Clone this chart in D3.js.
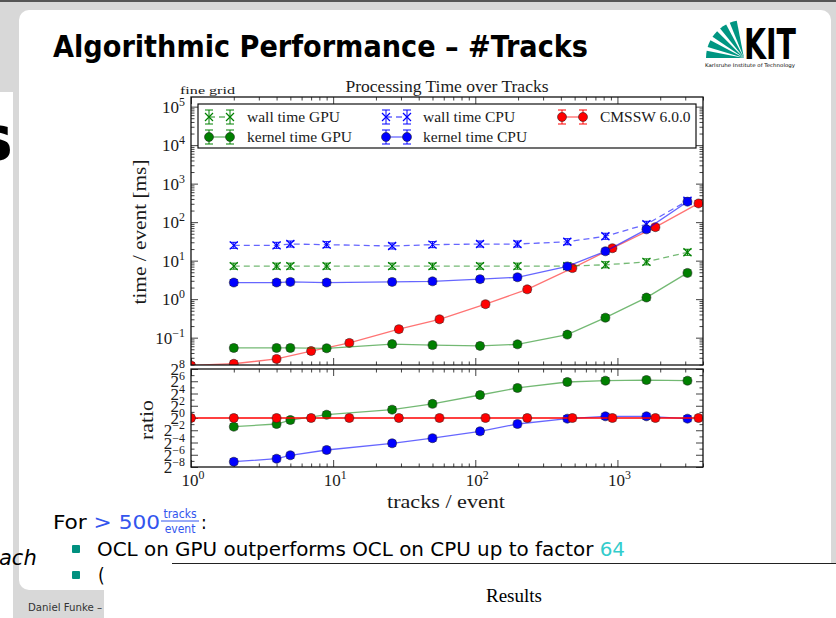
<!DOCTYPE html>
<html>
<head>
<meta charset="utf-8">
<script src="https://cdn.jsdelivr.net/npm/d3@7"></script>
<style>
  body { margin: 0; background: #fff; }
  svg { display: block; }
</style>
</head>
<body>
<svg id="slide"></svg>
<script>
// ---- data ----
const tracksGpuCpu = [2, 4, 5, 9, 26, 50, 108, 198, 444, 823, 1600, 3110];
const wallGpu   = [7.2, 7.2, 7.2, 7.2, 7.2, 7.2, 7.2, 7.2, 7.2, 7.8, 9.3, 16.5];
const kernelGpu = [0.054, 0.054, 0.054, 0.053, 0.068, 0.064, 0.061, 0.067, 0.12, 0.33, 1.1, 4.8];
const wallCpu   = [25, 25, 27, 26, 24, 26, 27, 27, 31, 43, 88, 360];
const kernelCpu = [2.7, 2.7, 2.8, 2.7, 2.8, 2.9, 3.3, 3.7, 7.1, 17.5, 65, 340];

const tracksCmssw = [1, 2, 4, 7, 13, 29, 56, 118, 232, 482, 922, 1850, 3720];
const cmssw       = [0.019, 0.021, 0.028, 0.045, 0.073, 0.166, 0.30, 0.74, 1.8, 6.4, 21, 74, 306];

// ratio panel (CMSSW relative to kernel time)
const ratioGpu   = [0.374, 0.507, 0.795, 1.45, 2.57, 4.96, 13.5, 29.9, 58.9, 68.1, 73.5, 68.1];
const ratioCpu   = [0.0071, 0.0100, 0.0147, 0.0268, 0.0571, 0.1015, 0.222, 0.507, 0.927, 1.21, 1.21, 0.927];
const ratioCmssw = [1, 1, 1, 1, 1, 1, 1, 1, 1, 1, 1, 1, 1];

// tick labels
const xTickExp = [0, 1, 2, 3];
const yTickExp = [-1, 0, 1, 2, 3, 4, 5];
const ratioTickExp = [-8, -6, -4, -2, 0, 2, 4, 6, 8];

// ---- layout ----
const W = 836, H = 618;
const plotL = 191, plotR = 703;
const topT = 97, topB = 365;
const ratT = 369, ratB = 467;

const svg = d3.select("#slide")
    .attr("width", W)
    .attr("height", H);

// ---- slide background / window frame ----
const bg = svg.append("g");
bg.append("rect").attr("x", 0).attr("y", 0).attr("width", W).attr("height", H).attr("fill", "#d8d8d8");
bg.append("rect").attr("x", 0).attr("y", 0).attr("width", W).attr("height", 2).attr("fill", "#555");
bg.append("rect").attr("x", 19).attr("y", 10).attr("width", 812).attr("height", 580)
    .attr("rx", 10).attr("fill", "#fff");

// left overlapping window with cut text
bg.append("rect").attr("x", 0).attr("y", 92).attr("width", 13).attr("height", H - 92).attr("fill", "#fff");
svg.append("clipPath").attr("id", "leftclip")
    .append("rect").attr("x", 0).attr("y", 92).attr("width", 13).attr("height", H - 92);
svg.append("g").attr("clip-path", "url(#leftclip)")
    .append("text").attr("x", -24).attr("y", 160)
    .style("font-family", "'DejaVu Sans', sans-serif")
    .attr("font-size", 62).attr("font-weight", "bold").text("s");
svg.append("text").attr("x", -1).attr("y", 565)
    .style("font-family", "'DejaVu Sans', sans-serif")
    .attr("font-size", 21).attr("font-style", "italic").text("ach");

// footer
bg.append("text").attr("x", 28).attr("y", 611)
    .style("font-family", "'DejaVu Sans Condensed', 'DejaVu Sans', sans-serif")
    .attr("font-size", 11).attr("fill", "#333")
    .attr("textLength", 74).attr("lengthAdjust", "spacingAndGlyphs")
    .text("Daniel Funke –");

// slide title
svg.append("text")
    .attr("x", 53).attr("y", 57)
    .style("font-family", "'DejaVu Sans Condensed', 'DejaVu Sans', sans-serif")
    .attr("font-weight", "bold").attr("font-size", 30)
    .attr("textLength", 535).attr("lengthAdjust", "spacingAndGlyphs")
    .text("Algorithmic Performance – #Tracks");

// KIT logo
const logo = svg.append("g");
const fanArc = d3.arc().innerRadius(0).outerRadius(38);
const fanAngles = [[-90, -79], [-73, -62], [-56, -45], [-39, -28], [-22, -11]];
logo.selectAll("path.fan")
    .data(fanAngles)
    .enter().append("path")
    .attr("class", "fan")
    .attr("transform", "translate(744,58)")
    .attr("fill", "#009682")
    .attr("d", d => fanArc({ startAngle: d[0] * Math.PI / 180, endAngle: d[1] * Math.PI / 180 }));
logo.append("text").attr("x", 744).attr("y", 59)
    .style("font-family", "'DejaVu Sans', sans-serif").attr("font-weight", "bold")
    .attr("font-size", 42).attr("textLength", 52).attr("lengthAdjust", "spacingAndGlyphs").text("KIT");
logo.append("text").attr("x", 705).attr("y", 67)
    .style("font-family", "'DejaVu Sans', sans-serif")
    .attr("font-size", 5).attr("textLength", 90).attr("lengthAdjust", "spacingAndGlyphs")
    .text("Karlsruhe Institute of Technology");

// slide body text
const body = svg.append("g").style("font-family", "'DejaVu Sans Condensed', 'DejaVu Sans', sans-serif");
const forLine = body.append("text").attr("x", 53).attr("y", 529).attr("font-size", 20)
    .attr("textLength", 107).attr("lengthAdjust", "spacingAndGlyphs");
forLine.append("tspan").text("For ");
forLine.append("tspan").attr("fill", "#3355ee").text("> 500");
body.append("text").attr("x", 180).attr("y", 518).attr("font-size", 12).attr("fill", "#3355ee")
    .attr("text-anchor", "middle").text("tracks");
body.append("line").attr("x1", 161).attr("x2", 199).attr("y1", 521).attr("y2", 521)
    .attr("stroke", "#3355ee").attr("stroke-width", 1);
body.append("text").attr("x", 180).attr("y", 533).attr("font-size", 12).attr("fill", "#3355ee")
    .attr("text-anchor", "middle").text("event");
body.append("text").attr("x", 201).attr("y", 529).attr("font-size", 19).text(":");
body.append("rect").attr("x", 72).attr("y", 545).attr("width", 8).attr("height", 8).attr("rx", 1).attr("fill", "#00907f");
body.append("rect").attr("x", 72).attr("y", 571).attr("width", 8).attr("height", 8).attr("rx", 1).attr("fill", "#00907f");
const oclLine = body.append("text").attr("x", 97).attr("y", 556).attr("font-size", 19)
    .attr("textLength", 528).attr("lengthAdjust", "spacingAndGlyphs");
oclLine.append("tspan").text("OCL on GPU outperforms OCL on CPU up to factor ");
oclLine.append("tspan").attr("fill", "#33cccc").text("64");
body.append("text").attr("x", 98).attr("y", 582).attr("font-size", 19).text("(");

// bottom overlapping window
svg.append("rect").attr("x", 104).attr("y", 563).attr("width", W - 104).attr("height", H - 563).attr("fill", "#fff");
svg.append("line").attr("x1", 172).attr("x2", W).attr("y1", 563.5).attr("y2", 563.5)
    .attr("stroke", "#222").attr("stroke-width", 1);
svg.append("text").attr("x", 514).attr("y", 602).attr("text-anchor", "middle")
    .style("font-family", "'Liberation Serif', serif").attr("font-size", 19).text("Results");

// right window edge
svg.append("rect").attr("x", 831).attr("y", 2).attr("width", 5).attr("height", 561).attr("fill", "#d8d8d8");

// ---- chart ----
const chart = svg.append("g")
    .style("font-family", "'Liberation Serif', serif")
    .attr("fill", "#1a1a1a");

const x = d3.scaleLog().domain([1, 4000]).range([plotL, plotR]);
const yTop = d3.scaleLog().domain([Math.pow(10, -1.71), Math.pow(10, 5.25)]).range([topB, topT]);
const yRat = d3.scaleLog().base(2).domain([1 / 256, 256]).range([ratB, ratT]);

// minor ticks
const xMajor = xTickExp.map(e => Math.pow(10, e));
const xMinor = [];
xMajor.forEach(d => { for (let k = 2; k <= 9; k++) if (d * k <= 4000) xMinor.push(d * k); });
const yMinor = [];
[0.01, 0.1, 1, 10, 100, 1000, 10000, 100000].forEach(d => {
    for (let k = 2; k <= 9; k++) { const v = d * k; if (v > yTop.domain()[0] && v < yTop.domain()[1]) yMinor.push(v); }
});
const ratMajor = ratioTickExp.map(e => Math.pow(2, e));
const ratMinor = [-7, -5, -3, -1, 1, 3, 5, 7].map(e => Math.pow(2, e));

function drawTicks(g, axisFn, scale, values, size, transform) {
    const a = g.append("g").attr("transform", transform)
        .call(axisFn(scale).tickValues(values).tickSize(size).tickFormat(""));
    a.select(".domain").remove();
    a.selectAll(".tick line").attr("stroke", "#111").attr("stroke-width", 0.8);
}

function panelTicks(yScale, yMaj, yMin, top, bottom) {
    const g = chart.append("g");
    // inward ticks on all four sides
    drawTicks(g, d3.axisBottom, x, xMajor, -7, `translate(0,${bottom})`);
    drawTicks(g, d3.axisBottom, x, xMinor, -3.5, `translate(0,${bottom})`);
    drawTicks(g, d3.axisTop, x, xMajor, -7, `translate(0,${top})`);
    drawTicks(g, d3.axisTop, x, xMinor, -3.5, `translate(0,${top})`);
    drawTicks(g, d3.axisLeft, yScale, yMaj, -7, `translate(${plotL},0)`);
    drawTicks(g, d3.axisLeft, yScale, yMin, -3.5, `translate(${plotL},0)`);
    drawTicks(g, d3.axisRight, yScale, yMaj, -7, `translate(${plotR},0)`);
    drawTicks(g, d3.axisRight, yScale, yMin, -3.5, `translate(${plotR},0)`);
}

panelTicks(yTop, yTickExp.map(e => Math.pow(10, e)), yMinor, topT, topB);
panelTicks(yRat, ratMajor, ratMinor, ratT, ratB);

// clip paths
svg.append("clipPath").attr("id", "clipTop")
    .append("rect").attr("x", plotL).attr("y", topT).attr("width", plotR - plotL).attr("height", topB - topT);
svg.append("clipPath").attr("id", "clipRat")
    .append("rect").attr("x", plotL).attr("y", ratT).attr("width", plotR - plotL).attr("height", ratB - ratT);

const green = "#008000", blue = "#0000ff", red = "#ff0000";

function drawMarker(g, px, py, type, color, err) {
    // small error bar with caps
    g.append("line").attr("x1", px).attr("x2", px).attr("y1", py - err).attr("y2", py + err)
        .attr("stroke", color).attr("stroke-width", 1);
    [py - err, py + err].forEach(cy => g.append("line")
        .attr("x1", px - 4).attr("x2", px + 4).attr("y1", cy).attr("y2", cy)
        .attr("stroke", color).attr("stroke-width", 1));
    if (type === "x") {
        g.append("path")
            .attr("d", `M${px - 4},${py - 4}L${px + 4},${py + 4}M${px - 4},${py + 4}L${px + 4},${py - 4}`)
            .attr("stroke", color).attr("stroke-width", 1.2).attr("fill", "none");
    } else {
        g.append("circle").attr("cx", px).attr("cy", py).attr("r", 4.5)
            .attr("fill", color).attr("stroke", "#222").attr("stroke-opacity", 0.7).attr("stroke-width", 0.8);
    }
}

function drawSeries(clipId, yScale, xs, ys, color, dash, marker, opacity, err) {
    const g = chart.append("g").attr("clip-path", `url(#${clipId})`);
    const pts = xs.map((d, i) => [d, ys[i]]);
    const line = d3.line().x(d => x(d[0])).y(d => yScale(d[1]));
    g.append("path").datum(pts)
        .attr("d", line)
        .attr("fill", "none")
        .attr("stroke", color)
        .attr("stroke-opacity", opacity)
        .attr("stroke-width", 1.3)
        .attr("stroke-dasharray", dash);
    pts.forEach(d => drawMarker(g, x(d[0]), yScale(d[1]), marker, color, err));
}

// top panel
drawSeries("clipTop", yTop, tracksCmssw, cmssw, red, null, "o", 0.55, 3);
drawSeries("clipTop", yTop, tracksGpuCpu, wallGpu, green, "6,4", "x", 0.55, 3);
drawSeries("clipTop", yTop, tracksGpuCpu, kernelGpu, green, null, "o", 0.55, 3);
drawSeries("clipTop", yTop, tracksGpuCpu, wallCpu, blue, "6,4", "x", 0.6, 3);
drawSeries("clipTop", yTop, tracksGpuCpu, kernelCpu, blue, null, "o", 0.6, 3);

// ratio panel
drawSeries("clipRat", yRat, tracksGpuCpu, ratioGpu, green, null, "o", 0.55, 3);
drawSeries("clipRat", yRat, tracksGpuCpu, ratioCpu, blue, null, "o", 0.6, 3);
drawSeries("clipRat", yRat, tracksCmssw, ratioCmssw, red, null, "o", 1, 3);

// panel frames
[[topT, topB], [ratT, ratB]].forEach(p => {
    chart.append("rect").attr("x", plotL).attr("y", p[0])
        .attr("width", plotR - plotL).attr("height", p[1] - p[0])
        .attr("fill", "none").attr("stroke", "#111").attr("stroke-width", 1.3);
});

// tick labels with superscripts
function powLabel(g, base, exp, px, py, anchor, size) {
    const t = g.append("text").attr("x", px).attr("y", py).attr("text-anchor", anchor)
        .attr("font-size", size);
    t.append("tspan").text(base);
    t.append("tspan").attr("dy", -7).attr("font-size", size * 0.7)
        .text(exp < 0 ? "\u2212" + Math.abs(exp) : exp);
}
yTickExp.forEach(e => powLabel(chart, "10", e, 185, yTop(Math.pow(10, e)) + 6, "end", 17));
xTickExp.forEach(e => powLabel(chart, "10", e, x(Math.pow(10, e)) + 2, 486, "middle", 17));
ratioTickExp.forEach(e => powLabel(chart, "2", e, 185, yRat(Math.pow(2, e)) + 6, "end", 17));

// axis titles
chart.append("text").attr("x", 446).attr("y", 508).attr("text-anchor", "middle")
    .attr("font-size", 19).attr("textLength", 118).attr("lengthAdjust", "spacingAndGlyphs")
    .text("tracks / event");
chart.append("text").attr("transform", "translate(146,232) rotate(-90)").attr("text-anchor", "middle")
    .attr("font-size", 19).attr("textLength", 145).attr("lengthAdjust", "spacingAndGlyphs")
    .text("time / event [ms]");
chart.append("text").attr("transform", "translate(153,420) rotate(-90)").attr("text-anchor", "middle")
    .attr("font-size", 19).attr("textLength", 40).attr("lengthAdjust", "spacingAndGlyphs")
    .text("ratio");
chart.append("text").attr("x", 447).attr("y", 92).attr("text-anchor", "middle")
    .attr("font-size", 17).attr("textLength", 203).attr("lengthAdjust", "spacingAndGlyphs")
    .text("Processing Time over Tracks");
chart.append("text").attr("x", 180).attr("y", 94).attr("font-size", 11)
    .attr("textLength", 55).attr("lengthAdjust", "spacingAndGlyphs").text("fine grid");

// legend
const legend = chart.append("g");
legend.append("rect").attr("x", 198).attr("y", 104).attr("width", 498).attr("height", 44)
    .attr("fill", "#fff").attr("stroke", "#111").attr("stroke-width", 1.2);
const legendItems = [
    { label: "wall time GPU",   color: green, dash: "6,4", marker: "x", hx: 209, tx: 247, y: 117 },
    { label: "kernel time GPU", color: green, dash: null,  marker: "o", hx: 209, tx: 247, y: 137 },
    { label: "wall time CPU",   color: blue,  dash: "6,4", marker: "x", hx: 386, tx: 423, y: 117 },
    { label: "kernel time CPU", color: blue,  dash: null,  marker: "o", hx: 386, tx: 423, y: 137 },
    { label: "CMSSW 6.0.0",     color: red,   dash: null,  marker: "o", hx: 562, tx: 600, y: 117 }
];
legendItems.forEach(d => {
    const g = legend.append("g");
    g.append("line").attr("x1", d.hx).attr("x2", d.hx + 21).attr("y1", d.y).attr("y2", d.y)
        .attr("stroke", d.color).attr("stroke-opacity", 0.6).attr("stroke-width", 1.3)
        .attr("stroke-dasharray", d.dash);
    drawMarker(g, d.hx, d.y, d.marker, d.color, 7);
    drawMarker(g, d.hx + 21, d.y, d.marker, d.color, 7);
    g.append("text").attr("x", d.tx).attr("y", d.y + 5).attr("font-size", 15.5).text(d.label);
});
</script>
</body>
</html>
